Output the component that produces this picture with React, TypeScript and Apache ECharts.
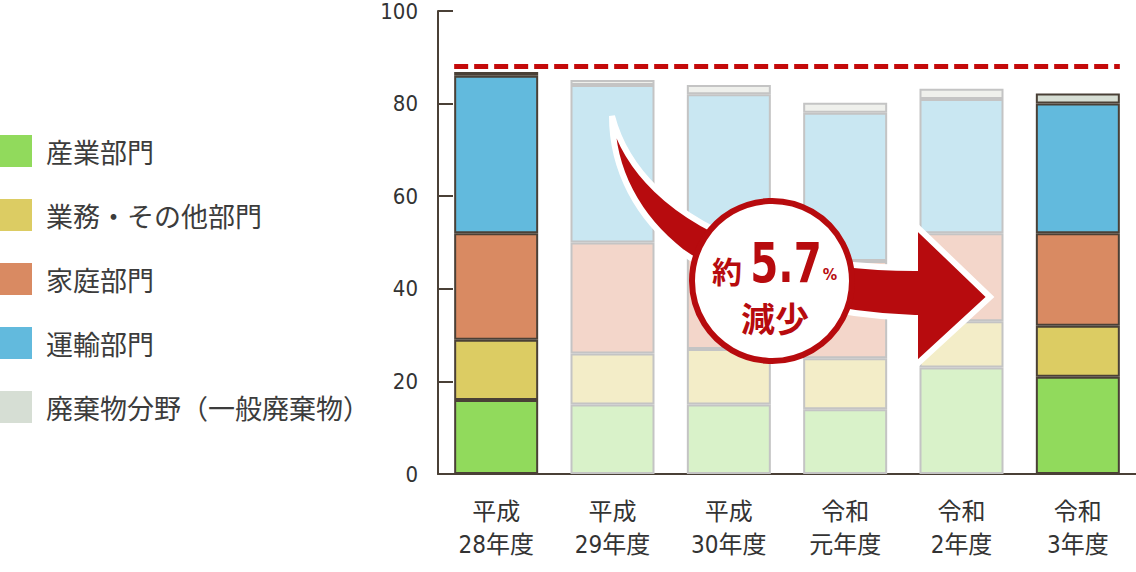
import * as echarts from "echarts";
import { useEffect, useRef } from "react";

const categories = ["平成\n28年度", "平成\n29年度", "平成\n30年度", "令和\n元年度", "令和\n2年度", "令和\n3年度"];
const seriesNames = ["産業部門", "業務・その他部門", "家庭部門", "運輸部門", "廃棄物分野（一般廃棄物）"];
const industry = [16, 15, 15, 14, 23, 21];
const business = [13, 11, 12, 11, 10, 11];
const household = [23, 24, 23, 21, 19, 20];
const transport = [34, 34, 32, 32, 29, 28];
const waste = [0.8, 1.1, 2, 2.2, 2.2, 2.2];
const baseline = 88;
const highlighted = [0, 5];

const solidColors = ["#91da5c", "#dccc63", "#d98a62", "#62badd", "#d6ded4"];
const fadedColors = ["#d9f2c9", "#f3edc8", "#f3d6ca", "#c9e7f2", "#eff0ec"];

const ARROW_D =
  "M612 116 C625 166 668 218 760 249 C820 264 870 268 915 268 L915 225 L990 297 L915 366 L915 318 C840 316 745 296 682 252 C638 218 612 170 612 116 Z";

echarts.graphic.registerShape("reduceArrow", echarts.graphic.extendPath(ARROW_D, {}));

const numFont = "'DejaVu Sans Condensed', 'Noto Sans CJK JP', sans-serif";
const jpFont = "'Noto Sans CJK JP', sans-serif";
const RED = "#b70b0e";
const AXIS = "#4a4036";

export default function App() {
  const ref = useRef<HTMLDivElement | null>(null);

  useEffect(() => {
    const el = ref.current;
    if (el === null) return;
    const chart = echarts.init(el, null, { renderer: "svg" });

    const values = [industry, business, household, transport, waste];

    chart.setOption({
      animation: false,
      grid: { left: 438, right: 0, top: 10, bottom: 98 },
      legend: {
        orient: "vertical",
        left: 0,
        top: 135,
        padding: 0,
        itemWidth: 32,
        itemHeight: 32,
        itemGap: 32,
        icon: "rect",
        selectedMode: false,
        data: seriesNames,
        itemStyle: { borderWidth: 0 },
        textStyle: {
          fontFamily: jpFont,
          fontSize: 27,
          color: "#3c3c3c",
          padding: [0, 0, 0, 9],
        },
      },
      xAxis: {
        type: "category",
        data: categories,
        axisLine: { lineStyle: { color: AXIS, width: 2 } },
        axisTick: { inside: true, length: 12, interval: 0, lineStyle: { color: AXIS, width: 2 } },
        axisLabel: {
          interval: 0,
          margin: 21,
          fontFamily: numFont,
          fontSize: 24,
          lineHeight: 33,
          color: "#333",
        },
      },
      yAxis: {
        type: "value",
        min: 0,
        max: 100,
        interval: 20,
        axisLine: { show: true, lineStyle: { color: AXIS, width: 2 } },
        axisTick: { show: true, inside: true, length: 15, lineStyle: { color: AXIS, width: 2 } },
        splitLine: { show: false },
        axisLabel: { margin: 20, fontFamily: numFont, fontSize: 22, color: "#333" },
      },
      series: seriesNames.map((name, s) => ({
        name,
        type: "bar",
        stack: "total",
        barWidth: 84,
        itemStyle: { color: solidColors[s], borderColor: AXIS, borderWidth: 2 },
        data: values[s].map((v, i) =>
          highlighted.includes(i)
            ? { value: v }
            : { value: v, itemStyle: { color: fadedColors[s], borderColor: "#c4c4c4", borderWidth: 2 } }
        ),
      })),
    });

    const p0 = chart.convertToPixel({ xAxisIndex: 0, yAxisIndex: 0 }, [0, baseline]) as number[];
    const p5 = chart.convertToPixel({ xAxisIndex: 0, yAxisIndex: 0 }, [categories.length - 1, baseline]) as number[];

    chart.setOption({
      graphic: [
        {
          type: "line",
          z: 5,
          shape: { x1: p0[0] - 42, y1: p0[1], x2: p5[0] + 42, y2: p5[1] },
          style: { stroke: "#c40a0a", lineWidth: 5, lineDash: [14, 6] },
        },
        {
          type: "reduceArrow",
          x: 0,
          y: 0,
          z: 10,
          style: { fill: RED, stroke: "#fff", lineWidth: 6 },
        },
        {
          type: "circle",
          z: 11,
          shape: { cx: 772, cy: 281, r: 80 },
          style: { fill: "#fff", stroke: RED, lineWidth: 6 },
        },
        {
          type: "text",
          z: 12,
          x: 727,
          y: 270,
          style: { text: "約", fill: RED, font: `bold 30px ${jpFont}`, align: "center", verticalAlign: "middle" },
        },
        {
          type: "text",
          z: 12,
          x: 786,
          y: 263,
          scaleX: 0.8,
          style: { text: "5.7", fill: RED, font: `bold 56px ${numFont}`, align: "center", verticalAlign: "middle" },
        },
        {
          type: "text",
          z: 12,
          x: 830,
          y: 274,
          style: { text: "%", fill: RED, font: `bold 16px ${numFont}`, align: "center", verticalAlign: "middle" },
        },
        {
          type: "text",
          z: 12,
          x: 775,
          y: 317,
          style: { text: "減少", fill: RED, font: `bold 34px ${jpFont}`, align: "center", verticalAlign: "middle" },
        },
      ],
    });

    return () => chart.dispose();
  }, []);

  return <div ref={ref} style={{ position: "absolute", left: 0, top: 0, width: 1136, height: 572 }} />;
}
